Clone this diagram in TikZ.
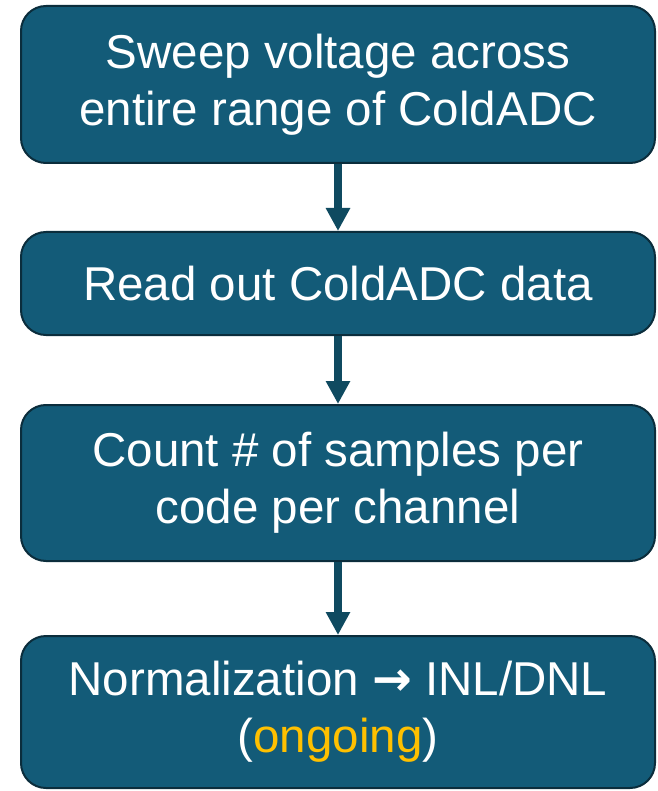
\documentclass[tikz,border=0pt]{standalone}
\usepackage{fontspec}
\setmainfont{Liberation Sans}
\newfontfamily\arrowfont{DejaVu Sans}
\usetikzlibrary{arrows.meta}
\definecolor{stepblue}{HTML}{135B78}
\definecolor{stepedge}{HTML}{0B2D3C}
\definecolor{arrowblue}{HTML}{0F4A60}
\definecolor{ongoing}{HTML}{FFC000}

\begin{document}
\begin{tikzpicture}[x=1pt, y=1pt,
    stepbox/.style={draw=stepedge, line width=2pt, fill=stepblue, rounded corners=25pt,
                    minimum width=634pt, inner sep=0pt, text=white, align=center,
                    font=\fontsize{47.5}{57}\selectfont},
    flow/.style={draw=arrowblue, line width=8pt, -{Triangle[width=23pt, length=23pt]}}]

                      \useasboundingbox (0,0) rectangle (657,-791);

                      \node[stepbox, minimum height=157pt] (sweep) at (338,-84.5) {Sweep voltage across\\entire range of ColdADC};
                      \node[stepbox, minimum height=103pt] (readout) at (338,-283.5) {Read out ColdADC data};
                      \node[stepbox, minimum height=156pt] (count) at (338,-483) {Count \# of samples per\\code per channel};
                      \node[stepbox, minimum height=152pt] (norm) at (338,-712) {Normalization {\arrowfont\bfseries →} INL/DNL\\(\textcolor{ongoing}{ongoing})};

                      \draw[flow] (sweep) -- (readout);
                      \draw[flow] (readout) -- (count);
                      \draw[flow] (count) -- (norm);

                    \end{tikzpicture}
\end{document}
